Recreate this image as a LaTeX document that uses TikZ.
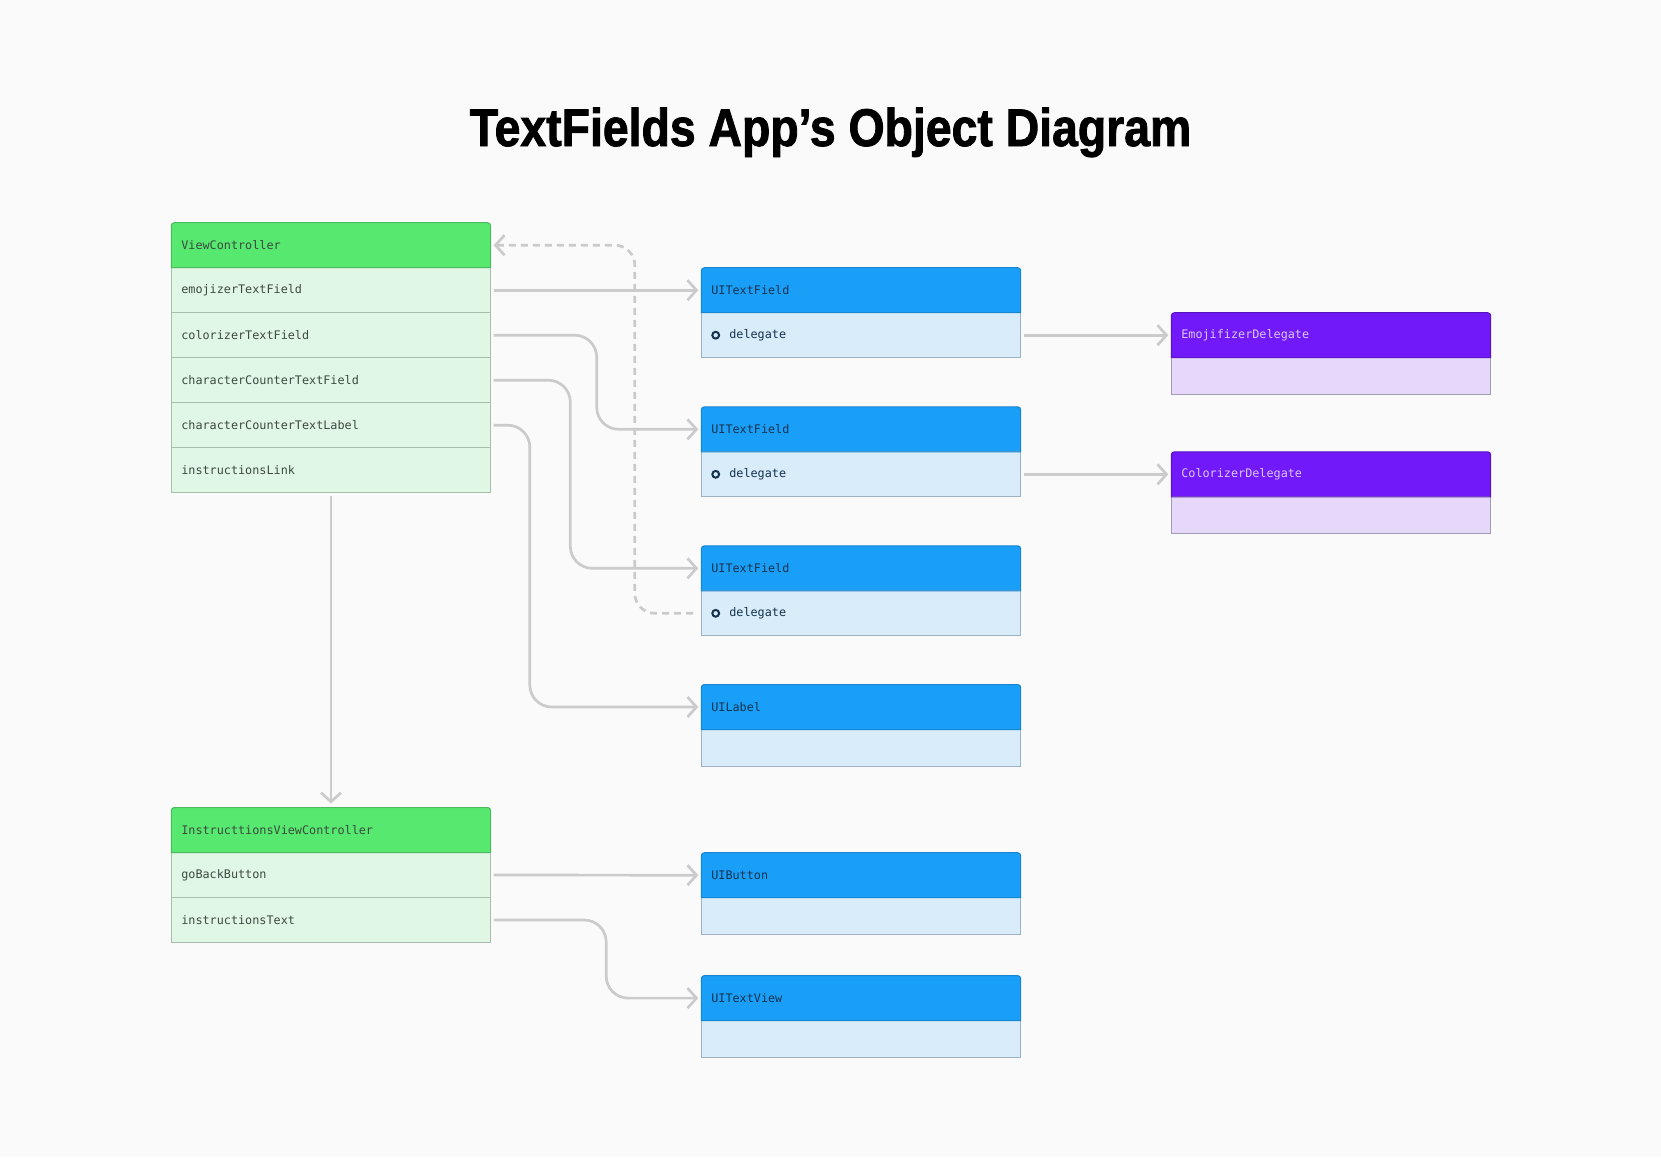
\documentclass[tikz,border=0pt]{standalone}
\usepackage{fontspec}
\setmonofont{DejaVu Sans Mono}
\newfontfamily\titlefont{Liberation Sans}[FakeStretch=0.875,BoldFeatures={FakeBold=1.6}]
\usetikzlibrary{arrows.meta}
\pgfdeclarelayer{bg}\pgfdeclarelayer{fg}\pgfsetlayers{bg,main,fg}
\definecolor{pagec}{HTML}{FAFAFA}
\definecolor{ghead}{HTML}{57E870}
\definecolor{gheadline}{HTML}{4DB95E}
\definecolor{grow}{HTML}{E1F7E6}
\definecolor{gline}{HTML}{A8BDAA}
\definecolor{gtext}{HTML}{3B4A3E}
\definecolor{bhead}{HTML}{1A9FF8}
\definecolor{bheadline}{HTML}{1785D0}
\definecolor{brow}{HTML}{D8ECFA}
\definecolor{bline}{HTML}{9DB1C2}
\definecolor{btext}{HTML}{15324E}
\definecolor{phead}{HTML}{7119F8}
\definecolor{pheadline}{HTML}{5813C2}
\definecolor{prow}{HTML}{E6D8FA}
\definecolor{pline}{HTML}{A39BB4}
\definecolor{ptext}{HTML}{D9C7FF}
\definecolor{connc}{HTML}{CBCBCB}
\newcommand\hdrbox[3]{%
  \begin{pgfonlayer}{bg}\fill[#2] (#1.south west) [rounded corners=3pt]-- (#1.north west) -- (#1.north east) [sharp corners]-- (#1.south east) -- cycle;\end{pgfonlayer}%
  \begin{pgfonlayer}{fg}\draw[#3,line width=1pt] (#1.south west) [rounded corners=3pt]-- (#1.north west) -- (#1.north east) [sharp corners]-- (#1.south east) -- cycle;\end{pgfonlayer}}
\tikzset{
  box/.style={rectangle, anchor=north west, outer sep=0pt, inner xsep=10pt, inner ysep=0pt,
    minimum height=45pt, text width=299.4pt, align=left,
    font=\ttfamily\fontsize{11.8}{14}\selectfont},
  ghd/.style={box, text=gtext},
  grw/.style={box, fill=grow, draw=gline, line width=1pt, text=gtext},
  bhd/.style={box, text=btext},
  brw/.style={box, fill=brow, draw=bline, line width=1pt, text=btext},
  bbody/.style={brw, minimum height=36.6pt},
  phd/.style={box, text=ptext},
  pbody/.style={box, fill=prow, draw=pline, line width=1pt, minimum height=36.6pt},
  conn/.style={draw=connc, line width=2.7pt, -{Straight Barb[length=9pt,width=20pt]}},
  dconn/.style={draw=connc, line width=2.7pt, dash pattern=on 7pt off 5pt, {Straight Barb[length=9pt,width=20pt]}-},
  ring/.style={draw=btext, line width=2pt}
}
\begin{document}
\begin{tikzpicture}[x=1pt,y=-1pt]
\begin{pgfonlayer}{bg}\fill[pagec] (0,0) rectangle (1661,1157);\end{pgfonlayer}
\useasboundingbox (0,0) rectangle (1661,1157);

\node[font=\titlefont\bfseries\fontsize{53}{60}\selectfont, anchor=base] (title) at (830.5,146) {TextFields App’s Object Diagram};

% ViewController
\node[ghd] (vch) at (171.3,222.7) {ViewController};
\node[grw] (vc1) at (vch.south west) {emojizerTextField};
\node[grw] (vc2) at (vc1.south west) {colorizerTextField};
\node[grw] (vc3) at (vc2.south west) {characterCounterTextField};
\node[grw] (vc4) at (vc3.south west) {characterCounterTextLabel};
\node[grw] (vc5) at (vc4.south west) {instructionsLink};
\hdrbox{vch}{ghead}{gheadline}

% InstructionsViewController
\node[ghd] (ivch) at (171.3,807.5) {InstructtionsViewController};
\node[grw] (ivc1) at (ivch.south west) {goBackButton};
\node[grw] (ivc2) at (ivc1.south west) {instructionsText};
\hdrbox{ivch}{ghead}{gheadline}

% UITextFields
\node[bhd] (tf1h) at (701.3,267.7) {UITextField};
\node[brw] (tf1r) at (tf1h.south west) {\hspace*{18pt}delegate};
\hdrbox{tf1h}{bhead}{bheadline}
\node[bhd] (tf2h) at (701.3,406.8) {UITextField};
\node[brw] (tf2r) at (tf2h.south west) {\hspace*{18pt}delegate};
\hdrbox{tf2h}{bhead}{bheadline}
\node[bhd] (tf3h) at (701.3,545.8) {UITextField};
\node[brw] (tf3r) at (tf3h.south west) {\hspace*{18pt}delegate};
\hdrbox{tf3h}{bhead}{bheadline}
\draw[ring] ([xshift=14.4pt]tf1r.west) circle (3.4pt);
\draw[ring] ([xshift=14.4pt]tf2r.west) circle (3.4pt);
\draw[ring] ([xshift=14.4pt]tf3r.west) circle (3.4pt);

% UILabel, UIButton, UITextView
\node[bhd] (ulh) at (701.3,684.5) {UILabel};
\node[bbody] (ulb) at (ulh.south west) {};
\hdrbox{ulh}{bhead}{bheadline}
\node[bhd] (ubh) at (701.3,852.7) {UIButton};
\node[bbody] (ubb) at (ubh.south west) {};
\hdrbox{ubh}{bhead}{bheadline}
\node[bhd] (tvh) at (701.3,975.6) {UITextView};
\node[bbody] (tvb) at (tvh.south west) {};
\hdrbox{tvh}{bhead}{bheadline}

% Delegates
\node[phd] (emh) at (1171.3,312.7) {EmojifizerDelegate};
\node[pbody] (emb) at (emh.south west) {};
\hdrbox{emh}{phead}{pheadline}
\node[phd] (coh) at (1171.3,451.8) {ColorizerDelegate};
\node[pbody] (cob) at (coh.south west) {};
\hdrbox{coh}{phead}{pheadline}

% junction x positions
\coordinate (j2) at (596.7,0);
\coordinate (j3) at (570.3,0);
\coordinate (j4) at (529.8,0);
\coordinate (jd) at (634.8,0);
\coordinate (j10) at (606.2,0);

% connectors
\draw[conn] ([xshift=3pt]vc1.east) -- ([xshift=-3pt]tf1h.west);
\draw[conn, rounded corners=22pt] ([xshift=3pt]vc2.east) -| (j2 |- tf2h.west) -- ([xshift=-3pt]tf2h.west);
\draw[conn, rounded corners=22pt] ([xshift=3pt]vc3.east) -| (j3 |- tf3h.west) -- ([xshift=-3pt]tf3h.west);
\draw[conn, rounded corners=22pt] ([xshift=3pt]vc4.east) -| (j4 |- ulh.west) -- ([xshift=-3pt]ulh.west);
\draw[dconn, rounded corners=20pt] ([xshift=3pt]vch.east) -| (jd |- tf3r.west) -- ([xshift=-4pt]tf3r.west);
\draw[conn] ([yshift=-3.5pt]vc5.south) -- ([yshift=4pt]ivch.north);
\draw[conn] ([xshift=3pt]tf1r.east) -- ([xshift=-3pt]emh.west);
\draw[conn] ([xshift=3pt]tf2r.east) -- ([xshift=-3pt]coh.west);
\draw[conn] ([xshift=3pt]ivc1.east) -- ([xshift=-3pt]ubh.west);
\draw[conn, rounded corners=22pt] ([xshift=3pt]ivc2.east) -| (j10 |- tvh.west) -- ([xshift=-3pt]tvh.west);
\end{tikzpicture}
\end{document}
